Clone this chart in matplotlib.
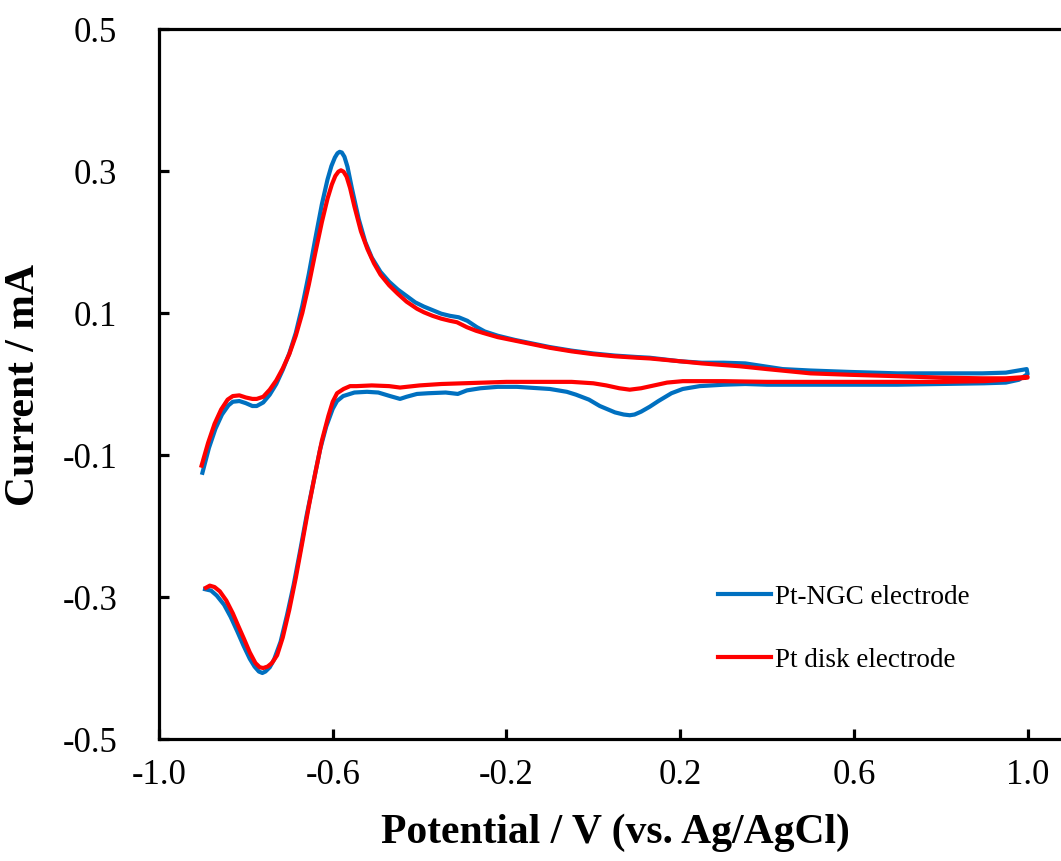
import numpy as np
import matplotlib
matplotlib.use('Agg')
import matplotlib.pyplot as plt

plt.rcParams['font.family'] = ['Liberation Serif', 'DejaVu Serif']

# Pt-NGC electrode (blue): forward scan then reverse scan
ngc_E = [-0.900, -0.885, -0.870, -0.855, -0.840, -0.830, -0.815, -0.800, -0.785, -0.775,
         -0.760, -0.745, -0.730, -0.715, -0.700, -0.685, -0.670, -0.655, -0.640, -0.625,
         -0.612, -0.603, -0.595, -0.589, -0.584, -0.579, -0.573, -0.566, -0.556, -0.540,
         -0.525, -0.510, -0.490, -0.470, -0.450, -0.430, -0.410, -0.390, -0.370, -0.350,
         -0.330, -0.310, -0.290, -0.268, -0.250, -0.220, -0.180, -0.140, -0.100, -0.050,
         0.000, 0.050, 0.100, 0.130, 0.200, 0.250, 0.300, 0.350, 0.436, 0.500,
         0.590, 0.700, 0.800, 0.896, 0.950, 0.998,
         1.000, 0.980, 0.950, 0.900, 0.800, 0.700, 0.600, 0.500, 0.400, 0.350,
         0.300, 0.245, 0.206, 0.180, 0.150, 0.130, 0.110, 0.095, 0.084, 0.070,
         0.050, 0.015, -0.010, -0.040, -0.061, -0.100, -0.150, -0.176, -0.220, -0.260,
         -0.291, -0.312, -0.340, -0.380, -0.406, -0.430, -0.445, -0.468, -0.495, -0.521,
         -0.550, -0.576, -0.590, -0.600, -0.606, -0.615, -0.629, -0.645, -0.660, -0.675,
         -0.690, -0.705, -0.720, -0.735, -0.745, -0.755, -0.762, -0.770, -0.780, -0.791,
         -0.805, -0.820, -0.835, -0.850, -0.867, -0.880, -0.894]
ngc_I = [-0.125, -0.090, -0.063, -0.043, -0.030, -0.025, -0.024, -0.027, -0.031, -0.031,
         -0.026, -0.015, 0.000, 0.020, 0.043, 0.072, 0.110, 0.155, 0.205, 0.253,
         0.288, 0.307, 0.319, 0.325, 0.327, 0.326, 0.320, 0.306, 0.276, 0.232,
         0.200, 0.178, 0.158, 0.144, 0.133, 0.124, 0.115, 0.109, 0.104, 0.099,
         0.096, 0.094, 0.089, 0.080, 0.074, 0.068, 0.062, 0.057, 0.052, 0.047,
         0.043, 0.040, 0.038, 0.037, 0.032, 0.030, 0.030, 0.029, 0.021, 0.019,
         0.017, 0.015, 0.015, 0.015, 0.016, 0.021,
         0.014, 0.006, 0.002, 0.001, 0.000, -0.001, -0.001, -0.001, -0.001, 0.000,
         -0.001, -0.003, -0.007, -0.013, -0.024, -0.032, -0.039, -0.043, -0.044, -0.043,
         -0.040, -0.031, -0.022, -0.015, -0.011, -0.007, -0.005, -0.004, -0.004, -0.006,
         -0.009, -0.014, -0.012, -0.013, -0.014, -0.018, -0.021, -0.017, -0.012, -0.011,
         -0.012, -0.017, -0.024, -0.035, -0.045, -0.060, -0.092, -0.140, -0.185, -0.235,
         -0.283, -0.325, -0.363, -0.388, -0.399, -0.405, -0.407, -0.405, -0.398, -0.387,
         -0.369, -0.348, -0.328, -0.311, -0.298, -0.291, -0.289]

# Pt disk electrode (red)
disk_E = [-0.902, -0.887, -0.872, -0.857, -0.842, -0.830, -0.815, -0.800, -0.785, -0.775,
          -0.760, -0.745, -0.730, -0.715, -0.700, -0.685, -0.670, -0.655, -0.640, -0.625,
          -0.612, -0.602, -0.594, -0.587, -0.581, -0.575, -0.568, -0.560, -0.550, -0.535,
          -0.520, -0.505, -0.490, -0.470, -0.450, -0.430, -0.406, -0.390, -0.370, -0.350,
          -0.330, -0.314, -0.291, -0.270, -0.254, -0.220, -0.180, -0.140, -0.100, -0.050,
          0.000, 0.050, 0.100, 0.130, 0.200, 0.250, 0.337, 0.400, 0.450, 0.500,
          0.590, 0.700, 0.800, 0.896, 0.950, 1.000,
          1.000, 0.950, 0.900, 0.800, 0.700, 0.600, 0.500, 0.400, 0.300, 0.250,
          0.206, 0.170, 0.140, 0.110, 0.084, 0.060, 0.030, 0.000, -0.050, -0.100,
          -0.150, -0.200, -0.250, -0.300, -0.350, -0.400, -0.445, -0.470, -0.510, -0.545,
          -0.560, -0.575, -0.590, -0.600, -0.610, -0.625, -0.640, -0.655, -0.670, -0.685,
          -0.700, -0.715, -0.728, -0.740, -0.750, -0.760, -0.768, -0.778, -0.791, -0.805,
          -0.818, -0.830, -0.845, -0.860, -0.872, -0.883, -0.892]
disk_I = [-0.115, -0.083, -0.056, -0.036, -0.022, -0.017, -0.016, -0.019, -0.021, -0.021,
          -0.018, -0.008, 0.005, 0.022, 0.042, 0.068, 0.100, 0.140, 0.185, 0.228,
          0.261, 0.281, 0.293, 0.299, 0.301, 0.299, 0.292, 0.276, 0.250, 0.215,
          0.190, 0.170, 0.154, 0.139, 0.127, 0.116, 0.106, 0.101, 0.096, 0.092,
          0.089, 0.087, 0.080, 0.075, 0.072, 0.066, 0.061, 0.056, 0.051, 0.046,
          0.042, 0.039, 0.037, 0.036, 0.032, 0.029, 0.025, 0.021, 0.018, 0.015,
          0.013, 0.011, 0.009, 0.008, 0.008, 0.010,
          0.009, 0.006, 0.004, 0.003, 0.003, 0.003, 0.003, 0.003, 0.004, 0.004,
          0.004, 0.002, -0.002, -0.006, -0.008, -0.006, -0.002, 0.001, 0.003, 0.003,
          0.003, 0.003, 0.002, 0.001, 0.000, -0.002, -0.005, -0.003, -0.002, -0.003,
          -0.003, -0.007, -0.013, -0.025, -0.045, -0.080, -0.125, -0.172, -0.223, -0.273,
          -0.318, -0.357, -0.382, -0.393, -0.398, -0.400, -0.399, -0.393, -0.378, -0.358,
          -0.340, -0.323, -0.305, -0.292, -0.286, -0.284, -0.287]

x_ticks = [-1.0, -0.6, -0.2, 0.2, 0.6, 1.0]
y_ticks = [-0.5, -0.3, -0.1, 0.1, 0.3, 0.5]

fig = plt.figure(figsize=(10.61, 8.62), dpi=100)
ax = fig.add_axes([159 / 1061, 122 / 862, 912 / 1061, 710 / 862])

ax.plot(ngc_E, ngc_I, color='#0070C0', lw=3.0, label='Pt-NGC electrode')
ax.plot(disk_E, disk_I, color='#FF0000', lw=3.0, label='Pt disk electrode')

ax.set_xlim(-1.0, 1.1)
ax.set_ylim(-0.5, 0.5)
ax.set_xticks(x_ticks)
ax.set_xticklabels(['%.1f' % v for v in x_ticks])
ax.set_yticks(y_ticks)
ax.set_yticklabels(['%.1f' % v for v in y_ticks])

for s in ax.spines.values():
    s.set_linewidth(2.3)
ax.spines['right'].set_visible(False)
ax.tick_params(direction='in', length=7, width=2.3, labelsize=25)
ax.tick_params(axis='x', pad=14)
ax.tick_params(axis='y', pad=30)

ax.set_xlabel('Potential / V (vs. Ag/AgCl)', fontsize=30, fontweight='bold')
ax.set_ylabel('Current / mA', fontsize=30, fontweight='bold')
ax.xaxis.set_label_coords(0.5, -0.104)
ax.yaxis.set_label_coords(-0.127, 0.5)

ax.legend(loc='center left', bbox_to_anchor=(0.613, 0.156), frameon=False,
          fontsize=19.5, handlelength=1.95, handletextpad=0.15, labelspacing=1.42,
          borderpad=0, borderaxespad=0)

fig.savefig('out.png', dpi=100)
